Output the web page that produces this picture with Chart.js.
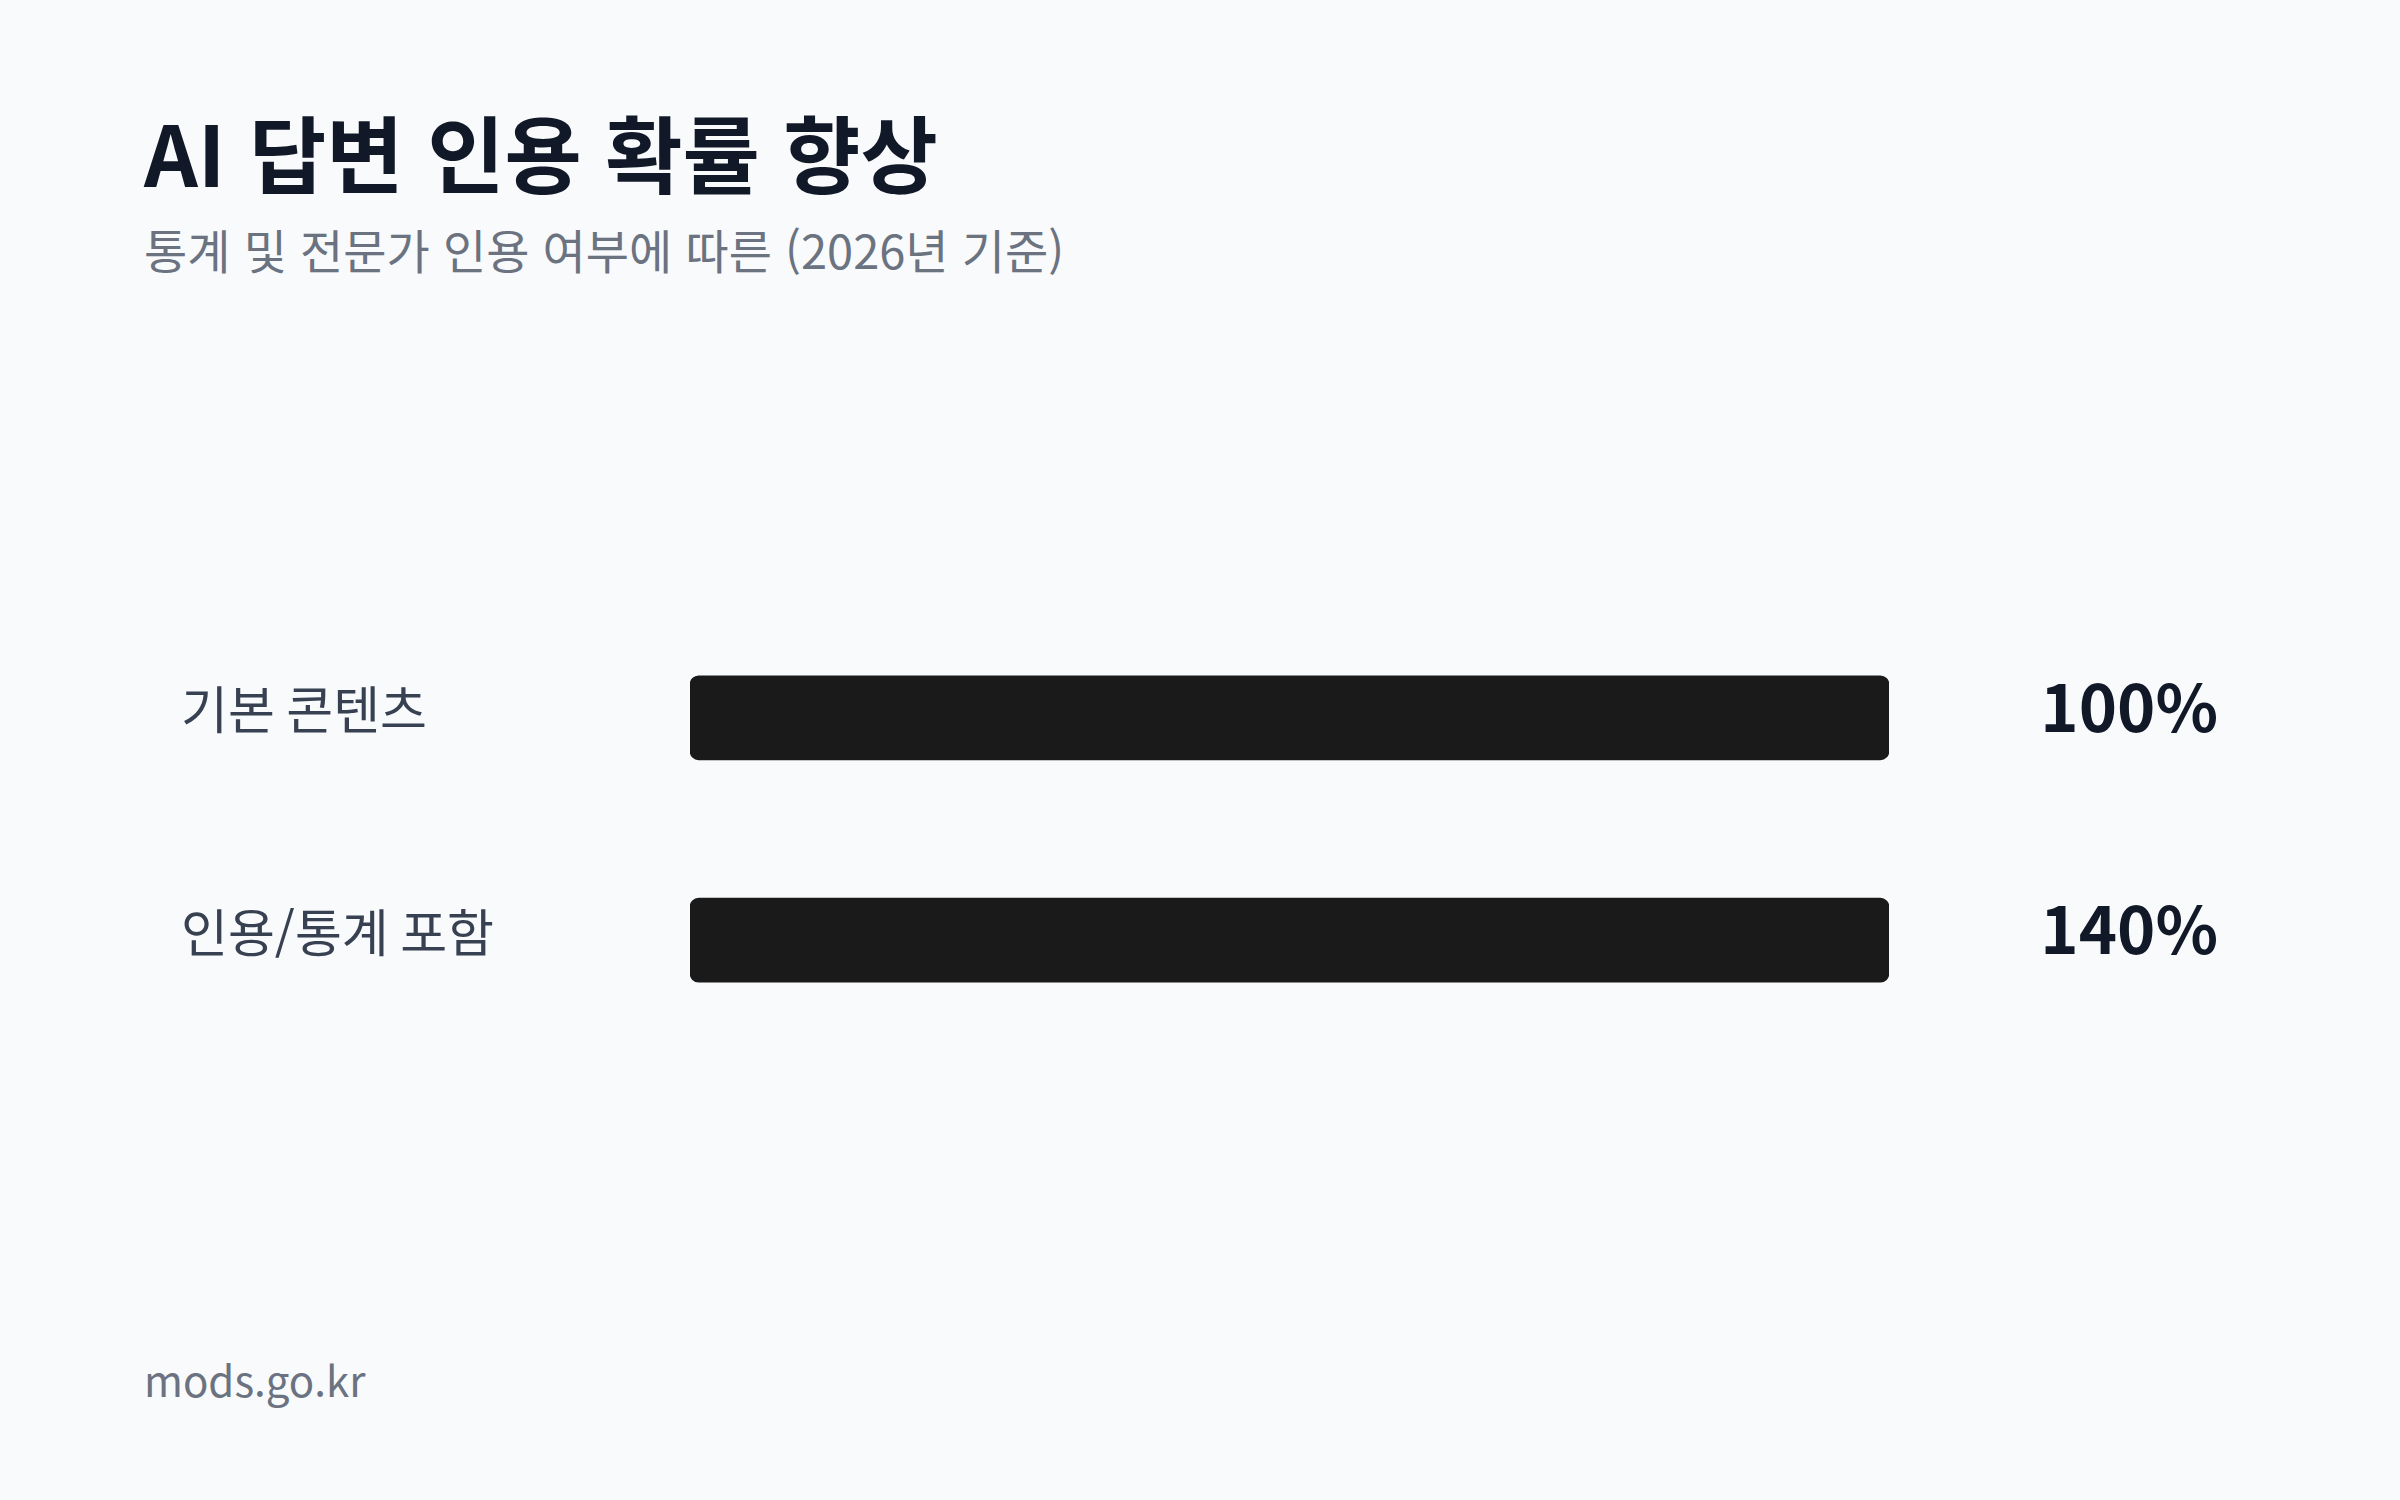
<!DOCTYPE html>
<html lang="ko">
<head>
<meta charset="utf-8">
<script src="https://cdn.jsdelivr.net/npm/chart.js@4.4.1/dist/chart.umd.min.js"></script>
<style>
  html, body { margin: 0; padding: 0; }
  body {
    width: 2400px; height: 1500px; position: relative; overflow: hidden;
    background: #f8fafc;
    font-family: "Noto Sans CJK KR", "Noto Sans", sans-serif;
  }
  .title {
    position: absolute; left: 144px; top: 109px;
    font-size: 84px; font-weight: 700; line-height: 1; color: #111827;
  }
  .subtitle {
    position: absolute; left: 144px; top: 225px;
    font-size: 47px; font-weight: 400; line-height: 1; color: #6b7280;
  }
  .footer {
    position: absolute; left: 144px; top: 1358px;
    font-size: 42px; line-height: 1; color: #6b7280;
  }
  #wrap { position: absolute; left: 181px; top: 576px; width: 2037px; height: 506px; }
</style>
</head>
<body>
<div class="title">AI 답변 인용 확률 향상</div>
<div class="subtitle">통계 및 전문가 인용 여부에 따른 (2026년 기준)</div>
<div class="footer">mods.go.kr</div>
<div id="wrap"><canvas id="chart"></canvas></div>

<script>
// Datos
const categorias = ["기본 콘텐츠", "인용/통계 포함"];
const valores = [100, 140];
const etiquetas = ["100%", "140%"];

// la barra se llena hasta el 100% como máximo
const relleno = valores.map(v => Math.min(v, 100));

// Etiquetas de valor a la derecha
const valueLabels = {
  id: "valueLabels",
  afterDatasetsDraw(chart) {
    const ctx = chart.ctx;
    const meta = chart.getDatasetMeta(0);
    ctx.save();
    ctx.font = "700 65px 'Noto Sans CJK KR'";
    ctx.fillStyle = "#111827";
    ctx.textAlign = "right";
    ctx.textBaseline = "middle";
    meta.data.forEach((bar, i) => {
      ctx.fillText(etiquetas[i], chart.width, bar.y - 11);
    });
    ctx.restore();
  }
};

new Chart(document.getElementById("chart"), {
  type: "bar",
  data: {
    labels: categorias,
    datasets: [{
      data: relleno,
      backgroundColor: "#1a1a1a",
      borderRadius: 9,
      borderSkipped: false,
      barThickness: 84
    }]
  },
  options: {
    indexAxis: "y",
    responsive: true,
    maintainAspectRatio: false,
    devicePixelRatio: 1,
    animation: false,
    layout: { padding: { right: 329 } },
    plugins: {
      legend: { display: false },
      tooltip: { enabled: false }
    },
    scales: {
      x: { display: false, min: 0, max: 100 },
      y: {
        grid: { display: false },
        border: { display: false },
        afterFit: (scale) => { scale.width = 509; },
        ticks: {
          crossAlign: "far",
          color: "#374151",
          padding: 0,
          labelOffset: -8,
          font: { family: "'Noto Sans CJK KR'", size: 51 }
        }
      }
    }
  },
  plugins: [valueLabels]
});
</script>
</body>
</html>
